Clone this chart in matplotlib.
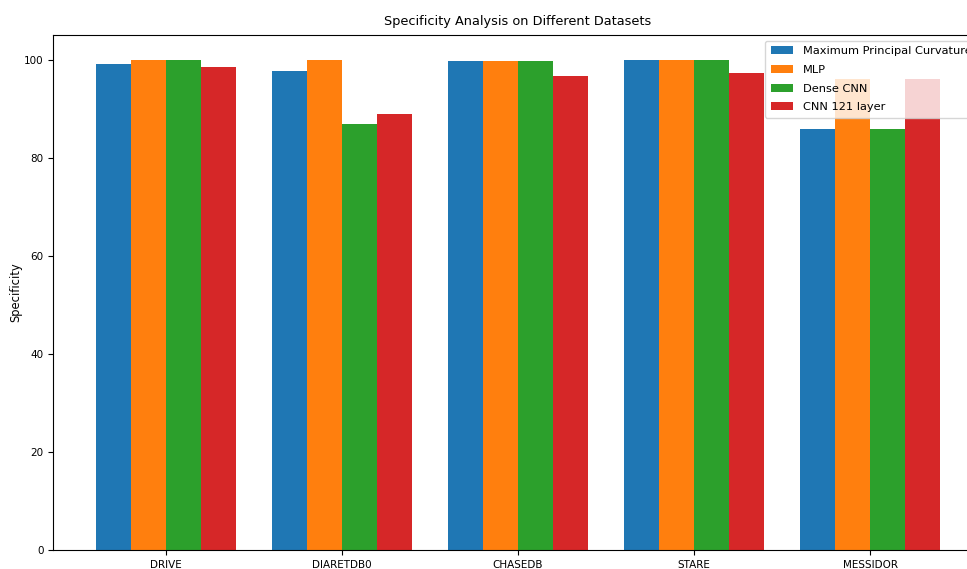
import matplotlib
matplotlib.use('Agg')
import matplotlib.pyplot as plt
import numpy as np

datasets = ['DRIVE', 'DIARETDB0', 'CHASEDB', 'STARE', 'MESSIDOR']
mpc = [99.0, 97.7, 99.7, 99.9, 85.9]
mlp = [100.0, 100.0, 99.8, 99.9, 96.1]
dense_cnn = [100.0, 86.9, 99.7, 99.9, 85.9]
cnn121 = [98.4, 89.0, 96.7, 97.2, 96.1]
labels = ['Maximum Principal Curvature', 'MLP', 'Dense CNN', 'CNN 121 layer']

fig = plt.figure(figsize=(9.67, 5.69), dpi=100)
# the axes run a bit past the right edge, as in the cropped original
ax = fig.add_axes([0.0552, 0.0334, 0.961, 0.905])

x = np.arange(len(datasets))
w = 0.2
for i, (vals, lab) in enumerate(zip([mpc, mlp, dense_cnn, cnn121], labels)):
    ax.bar(x + (i - 1.5) * w, vals, w, label=lab)

ax.set_xticks(x)
ax.set_xticklabels(datasets, fontsize=7.5)
ax.tick_params(axis='y', labelsize=7.5)
ax.set_ylabel('Specificity', fontsize=8.3, labelpad=1)
ax.set_title('Specificity Analysis on Different Datasets', fontsize=9.3, pad=7)
ax.legend(loc='upper right', fontsize=8.2, labelspacing=0.75, borderpad=0.5)

fig.savefig('out.png', dpi=100)
